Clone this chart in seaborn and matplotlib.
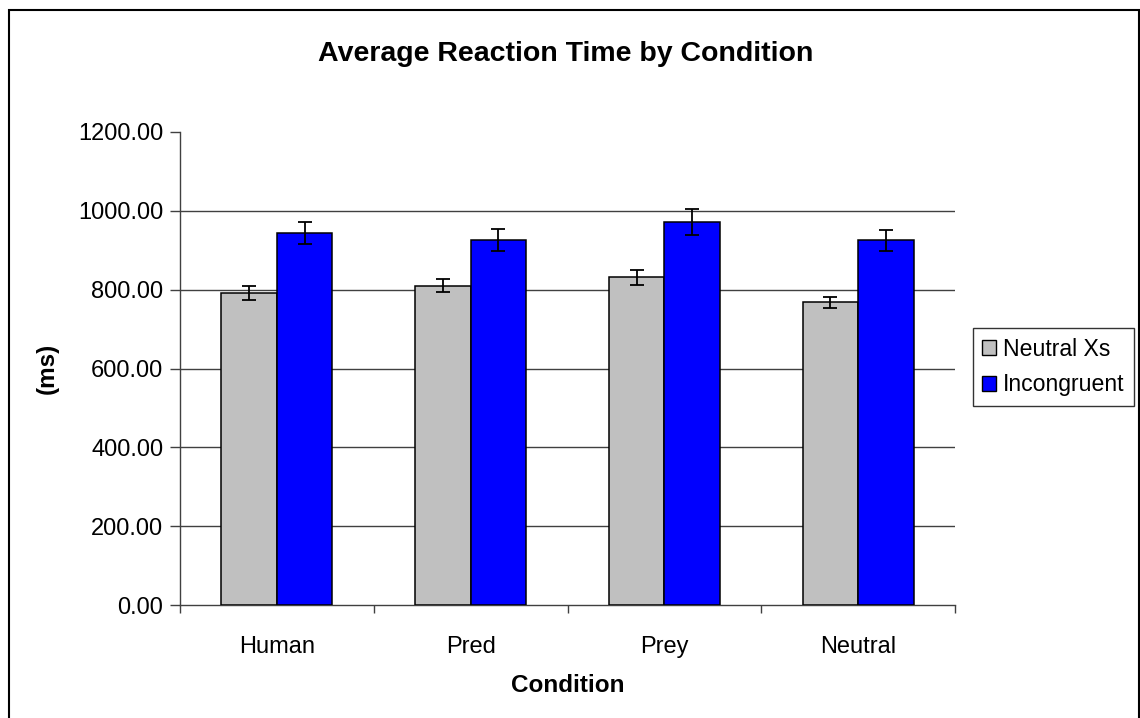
import matplotlib
matplotlib.use("Agg")
import matplotlib.pyplot as plt
from matplotlib.patches import Rectangle
from matplotlib.ticker import FixedLocator, FormatStrFormatter
import seaborn as sns
import pandas as pd

categories = ["Human", "Pred", "Prey", "Neutral"]
series_names = ["Neutral Xs", "Incongruent"]
neutral_vals = [792, 810, 831, 768]
neutral_err = [17, 17, 19.5, 14]
incong_vals = [943, 925, 971, 925]
incong_err = [28, 28, 33, 26]
colors = ["#C0C0C0", "#0000FF"]

rows = []
for c, v, e in zip(categories, neutral_vals, neutral_err):
    rows.append({"Condition": c, "Series": series_names[0], "value": v, "err": e})
for c, v, e in zip(categories, incong_vals, incong_err):
    rows.append({"Condition": c, "Series": series_names[1], "value": v, "err": e})
df = pd.DataFrame(rows)

sns.set_style("white")
plt.rcParams["font.family"] = ["Liberation Sans", "DejaVu Sans"]
plt.rcParams["text.color"] = "black"
plt.rcParams["axes.labelcolor"] = "black"
plt.rcParams["xtick.labelcolor"] = "black"
plt.rcParams["ytick.labelcolor"] = "black"

W, H = 1140, 718
fig = plt.figure(figsize=(W / 100, H / 100), dpi=100)
ax = fig.add_axes([180 / W, 1 - 605 / H, (955 - 180) / W, (605 - 132) / H])

sns.barplot(data=df, x="Condition", y="value", hue="Series", order=categories,
            hue_order=series_names, palette=colors, width=0.574, errorbar=None,
            edgecolor="black", linewidth=1.1, saturation=1, ax=ax, legend=False, zorder=3)

for cont, name in zip(ax.containers, series_names):
    sub = df[df["Series"] == name].set_index("Condition").loc[categories]
    xs = [p.get_x() + p.get_width() / 2 for p in cont.patches]
    ax.errorbar(xs, sub["value"], yerr=sub["err"], fmt="none", ecolor="black",
                elinewidth=1.3, capsize=5, capthick=1.3, zorder=4)

ax.set_ylim(0, 1200)
ax.set_xlim(-0.5, 3.5)
ax.yaxis.set_major_locator(FixedLocator([0, 200, 400, 600, 800, 1000, 1200]))
ax.yaxis.set_major_formatter(FormatStrFormatter("%.2f"))
for yv in [200, 400, 600, 800, 1000]:
    ax.axhline(yv, color="#404040", lw=1.0, zorder=1)

ax.xaxis.set_minor_locator(FixedLocator([-0.5, 0.5, 1.5, 2.5, 3.5]))
ax.tick_params(axis="x", which="major", length=0, pad=22, labelsize=17)
ax.tick_params(axis="x", which="minor", length=6, width=1, color="#404040", direction="out", bottom=True)
ax.tick_params(axis="y", which="major", length=7, width=1, color="#404040", direction="out", left=True, pad=5, labelsize=17)

for s in ["top", "right"]:
    ax.spines[s].set_visible(False)
ax.spines["left"].set_color("#404040")
ax.spines["bottom"].set_color("#404040")
ax.spines["left"].set_linewidth(1)
ax.spines["bottom"].set_linewidth(1)

ax.set_xlabel("Condition", fontsize=17.5, fontweight="bold", labelpad=12)
ax.set_ylabel("(ms)", fontsize=17.5, fontweight="bold", labelpad=14)
fig.text(566 / W, 1 - 54 / H, "Average Reaction Time by Condition", ha="center", va="center",
         fontsize=20.5, fontweight="bold", color="black")

handles = [Rectangle((0, 0), 1, 1, facecolor=c, edgecolor="black", lw=1) for c in colors]
leg = fig.legend(handles, series_names, loc="center left", bbox_to_anchor=(973 / W, 1 - 367 / H),
                 fontsize=16.6, frameon=True, fancybox=False, handlelength=0.6, handleheight=0.6,
                 handletextpad=0.3, borderpad=0.4, labelspacing=0.55, borderaxespad=0)
leg.get_frame().set_edgecolor("black")
leg.get_frame().set_linewidth(1)

fig.patches.append(Rectangle((9 / W, -20 / H), (1139 - 9) / W, (708 + 20) / H, transform=fig.transFigure,
                             fill=False, edgecolor="black", lw=1.5, clip_on=False))

fig.savefig("out.png", dpi=100, facecolor="white")
